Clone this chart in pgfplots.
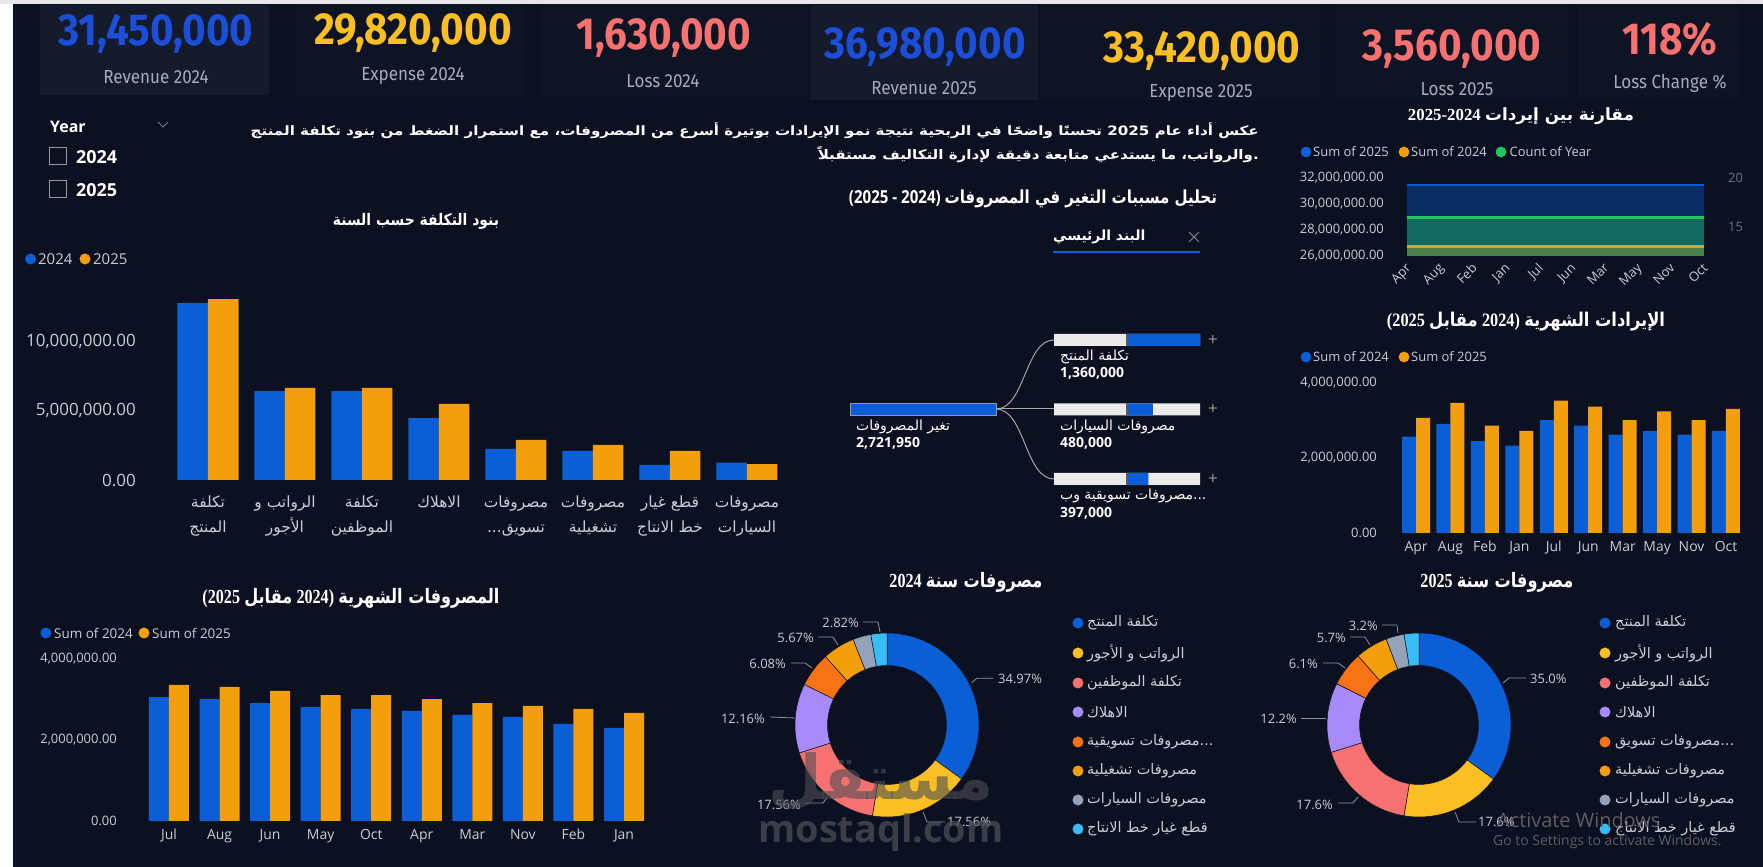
\documentclass[border=0pt]{standalone}
\usepackage{fontspec}
\usepackage{graphicx}
\usepackage{pgfplots}
\pgfplotsset{compat=1.18}
\setmainfont{Open Sans}
\newfontfamily\arfont[Script=Arabic]{DejaVu Sans}
\newfontfamily\kpifont[FakeStretch=0.9]{Fira Sans}
\newfontfamily\sernum{Liberation Serif}
\TeXXeTstate=1
\newcommand\fs[1]{\fontsize{#1}{#1}\selectfont}
\newcommand\AR[1]{{\arfont\beginR #1\endR}}
\definecolor{bg}{HTML}{0B1120}
\definecolor{cardA}{HTML}{141B2D}
\definecolor{cardB}{HTML}{0E1424}
\definecolor{pblue}{HTML}{0B5FD6}
\definecolor{porange}{HTML}{F59E0B}
\definecolor{kblue}{HTML}{1D4ED8}
\definecolor{kyellow}{HTML}{FBBF24}
\definecolor{kred}{HTML}{F87171}
\definecolor{lbl}{HTML}{A3ACB9}
\definecolor{ticktxt}{HTML}{C9CED6}
\definecolor{dimtxt}{HTML}{6B7280}
\definecolor{dyellow}{HTML}{FBBF24}
\definecolor{dsalmon}{HTML}{F87171}
\definecolor{dpurple}{HTML}{A78BFA}
\definecolor{dored}{HTML}{F97316}
\definecolor{dgray}{HTML}{94A3B8}
\definecolor{dlblue}{HTML}{38BDF8}
\definecolor{pgreen}{HTML}{22C55E}
\definecolor{areablue}{HTML}{0A2D64}
\definecolor{areateal}{HTML}{136A62}
\definecolor{areaolive}{HTML}{4A8048}
\definecolor{treegray}{HTML}{EBEBEB}
\definecolor{leader}{HTML}{8B93A0}
\definecolor{topgray}{HTML}{E5E7EB}
\pgfplotsset{pbi/.style={scale only axis, anchor=south west, axis line style={draw=none},
  tick style={draw=none}, major tick length=0pt, clip=false, scaled ticks=false,
  ticklabel style={text=ticktxt, inner sep=0pt}}}
\begin{document}
\begin{tikzpicture}
\useasboundingbox (0,0) rectangle (1763bp,867bp);
\fill[bg] (0,0) rectangle (1763bp,867bp);
\begin{scope}[shift={(0,867bp)}, x=1bp, y=-1bp]
 \fill[white] (0,0) rectangle (13,867);
 \fill[topgray] (0,0) rectangle (1763,4);
 % cards
 \fill[cardA] (40,5) rectangle (269,95);
 \fill[cardB] (297,5) rectangle (525,95);
 \fill[cardB] (541,5) rectangle (811,95);
 \fill[cardA] (811,5) rectangle (1038,100);
 \fill[cardB] (1040,5) rectangle (1319,100);
 \fill[cardB] (1336,5) rectangle (1567,100);
 \fill[cardB] (1578,5) rectangle (1739,100);
 \tikzset{kpi/.style={font=\kpifont\bfseries\fs{45}, inner sep=0pt},
          kpil/.style={font=\kpifont\fs{19}, text=lbl, inner sep=0pt}}
 \node[kpi, text=kblue] at (156,34) {31,450,000};
 \node[kpil] at (156,77) {Revenue 2024};
 \node[kpi, text=kyellow] at (413,33) {29,820,000};
 \node[kpil] at (413,76) {Expense 2024};
 \node[kpi, text=kred] at (664,38) {1,630,000};
 \node[kpil] at (663,81) {Loss 2024};
 \node[kpi, text=kblue] at (925,47) {36,980,000};
 \node[kpil] at (924,88) {Revenue 2025};
 \node[kpi, text=kyellow] at (1202,51) {33,420,000};
 \node[kpil] at (1201,93) {Expense 2025};
 \node[kpi, text=kred] at (1452,49) {3,560,000};
 \node[kpil] at (1457,89) {Loss 2025};
 \node[kpi, text=kred] at (1670,39) {118\%};
 \node[kpil] at (1670,83) {Loss Change \%};
 % slicer
 \node[anchor=west, font=\bfseries\fs{16}, text=white, inner sep=0pt] at (50,127) {Year};
 \draw[gray, line width=0.8] (158,122) -- (163,127) -- (168,122);
 \draw[gray!80, line width=1] (49.5,147.5) rectangle (66.5,164.5);
 \node[anchor=west, font=\bfseries\fs{18}, text=white, inner sep=0pt] at (76,157) {2024};
 \draw[gray!80, line width=1] (49.5,180.5) rectangle (66.5,197.5);
 \node[anchor=west, font=\bfseries\fs{18}, text=white, inner sep=0pt] at (76,190) {2025};
 % paragraph
 \node[anchor=east, inner sep=0pt, text=white] at (1259,131) {\resizebox*{1008bp}{16bp}{\arfont\bfseries\beginR عكس أداء عام \beginL 2025\endL{} تحسنًا واضحًا في الربحية نتيجة نمو الإيرادات بوتيرة أسرع من المصروفات، مع استمرار الضغط من بنود تكلفة المنتج\endR}};
 \node[anchor=east, inner sep=0pt, text=white] at (1259,155) {\resizebox*{441bp}{16bp}{\arfont\bfseries\beginR والرواتب، ما يستدعي متابعة دقيقة لإدارة التكاليف مستقبلاً\endR.}};
 % titles
 \node[inner sep=0pt, text=white] at (416,221) {\resizebox*{166bp}{16bp}{\arfont\bfseries\beginR بنود التكلفة حسب السنة\endR}};
 \node[inner sep=0pt, text=white] at (1033,199) {\resizebox*{368bp}{18bp}{{\bfseries (2025 - 2024)} \arfont\bfseries\beginR تحليل مسببات التغير في المصروفات\endR}};
 \node[inner sep=0pt, text=white] at (1521,116) {\resizebox*{226bp}{17bp}{{\sernum\bfseries 2025-2024} \arfont\bfseries\beginR مقارنة بين إيردات\endR}};
 \node[inner sep=0pt, text=white] at (1526,322) {\resizebox*{278bp}{19bp}{{\sernum\bfseries (2025} \AR{\bfseries مقابل} {\sernum\bfseries 2024)} \AR{\bfseries الإيرادات الشهرية}}};
 \node[inner sep=0pt, text=white] at (351,598) {\resizebox*{297bp}{20bp}{{\sernum\bfseries (2025} \AR{\bfseries مقابل} {\sernum\bfseries 2024)} \AR{\bfseries المصروفات الشهرية}}};
 \node[inner sep=0pt, text=white] at (966,582) {\resizebox*{153bp}{20bp}{{\sernum\bfseries 2024} \AR{\bfseries مصروفات سنة}}};
 \node[inner sep=0pt, text=white] at (1497,582) {\resizebox*{153bp}{20bp}{{\sernum\bfseries 2025} \AR{\bfseries مصروفات سنة}}};
 % legends
 \tikzset{lg/.style={anchor=west, inner sep=0pt, text=ticktxt}}
 \fill[pblue] (30.6,259) circle (5.5); \node[lg, font=\fs{15}] at (38,259) {2024};
 \fill[porange] (85,259) circle (5.5); \node[lg, font=\fs{15}] at (93,259) {2025};
 \fill[pblue] (45.8,633) circle (5.5); \node[lg, font=\fs{13.5}] at (54,633) {Sum of 2024};
 \fill[porange] (144,633) circle (5.5); \node[lg, font=\fs{13.5}] at (152,633) {Sum of 2025};
 \fill[pblue] (1306,357) circle (5.4); \node[lg, font=\fs{13}] at (1313,357) {Sum of 2024};
 \fill[porange] (1404,357) circle (5.4); \node[lg, font=\fs{13}] at (1411,357) {Sum of 2025};
 \fill[pblue] (1306,152) circle (5.4); \node[lg, font=\fs{13}] at (1313,152) {Sum of 2025};
 \fill[porange] (1404,152) circle (5.4); \node[lg, font=\fs{13}] at (1411,152) {Sum of 2024};
 \fill[pgreen] (1501,152) circle (5.4); \node[lg, font=\fs{13}] at (1509.5,152) {Count of Year};
 % tree header
 \node[anchor=west, inner sep=0pt, text=white, font=\arfont\bfseries\fs{14}] at (1053,237) {\beginR البند الرئيسي\endR};
 \draw[pblue, line width=2.5] (1053,252) -- (1200,252);
 \draw[gray!90, line width=0.9] (1189,232) -- (1199,242) (1189,242) -- (1199,232);
 % tree connectors
 \draw[gray!70, line width=1] (996,409) .. controls (1025,409) and (1025,340) .. (1054,340);
 \draw[gray!70, line width=1] (996,409) -- (1054,409);
 \draw[gray!70, line width=1] (996,409) .. controls (1025,409) and (1025,479) .. (1054,479);
 \tikzset{tl/.style={anchor=west, inner sep=0pt, text=white, font=\arfont\fs{14}},
          tn/.style={anchor=west, inner sep=0pt, text=white, font=\bfseries\fs{14}}}
 \node[tl] at (856,427) {\beginR تغير المصروفات\endR};
 \node[tn] at (856,443) {2,721,950};
 \node[tl] at (1060,357) {\beginR تكلفة المنتج\endR};
 \node[tn] at (1060,373) {1,360,000};
 \node[tl] at (1060,427) {\beginR مصروفات السيارات\endR};
 \node[tn] at (1060,443) {480,000};
 \node[tl] at (1060,496) {\beginR مصروفات تسويقية وب\endR.{}.{}.};
 \node[tn] at (1060,513) {397,000};
 \node[text=gray!80, font=\fs{17}, inner sep=0pt] at (1213,340) {+};
 \node[text=gray!80, font=\fs{17}, inner sep=0pt] at (1213,409) {+};
 \node[text=gray!80, font=\fs{17}, inner sep=0pt] at (1213,479) {+};
\end{scope}

% ===== cost items chart =====
\begin{axis}[pbi, at={(169.5bp,{867bp-480bp})}, width=616bp, height=194.6bp,
  xmin=-0.5, xmax=7.5, ymin=0, ymax=14000000, ybar=0pt, bar width=30.5bp,
  xtick={0,1,2,3,4,5,6,7},
  xticklabels={{\beginR تكلفة\endR\\\beginR المنتج\endR},{\beginR الرواتب و\endR\\\beginR الأجور\endR},{\beginR تكلفة\endR\\\beginR الموظفين\endR},{\beginR الاهلاك\endR},{\beginR مصروفات\endR\\.{}.{}.\beginR تسويق\endR},{\beginR مصروفات\endR\\\beginR تشغيلية\endR},{\beginR قطع غيار\endR\\\beginR خط الانتاج\endR},{\beginR مصروفات\endR\\\beginR السيارات\endR}},
  xticklabel style={font=\arfont\fontsize{15.5}{25}\selectfont, align=center, yshift=-16bp},
  ytick={0,5000000,10000000}, yticklabels={{0.00},{5,000,000.00},{10,000,000.00}},
  yticklabel style={font=\fs{17}, anchor=east, xshift=-33.5bp}]
\addplot[fill=pblue, draw=none] coordinates {(0,12730000) (1,6400000) (2,6400000) (3,4460000) (4,2230000) (5,2090000) (6,1080000) (7,1250000)};
\addplot[fill=porange, draw=none] coordinates {(0,13020000) (1,6620000) (2,6620000) (3,5470000) (4,2880000) (5,2520000) (6,2090000) (7,1150000)};
\end{axis}

% ===== monthly expenses =====
\begin{axis}[pbi, at={(143.7bp,{867bp-821bp})}, width=505.6bp, height=170.1bp,
  xmin=-0.5, xmax=9.5, ymin=0, ymax=4200000, ybar=0pt, bar width=20bp,
  xtick={0,1,2,3,4,5,6,7,8,9}, xticklabels={Jul,Aug,Jun,May,Oct,Apr,Mar,Nov,Feb,Jan},
  xticklabel style={font=\fs{14}, yshift=-8bp},
  ytick={0,2000000,4000000}, yticklabels={{0.00},{2,000,000.00},{4,000,000.00}},
  yticklabel style={font=\fs{13}, anchor=east, xshift=-26.7bp}]
\addplot[fill=pblue, draw=none] coordinates {(0,3060000) (1,3010000) (2,2910000) (3,2810000) (4,2770000) (5,2720000) (6,2620000) (7,2570000) (8,2400000) (9,2300000)};
\addplot[fill=porange, draw=none] coordinates {(0,3360000) (1,3310000) (2,3210000) (3,3110000) (4,3110000) (5,3010000) (6,2910000) (7,2840000) (8,2770000) (9,2670000)};
\end{axis}

% ===== monthly revenue =====
\begin{axis}[pbi, at={(1398.8bp,{867bp-533bp})}, width=344.4bp, height=153.75bp,
  xmin=-0.5, xmax=9.5, ymin=0, ymax=4100000, ybar=0pt, bar width=14bp,
  xtick={0,1,2,3,4,5,6,7,8,9}, xticklabels={Apr,Aug,Feb,Jan,Jul,Jun,Mar,May,Nov,Oct},
  xticklabel style={font=\fs{14}, yshift=-8bp},
  ytick={0,2000000,4000000}, yticklabels={{0.00},{2,000,000.00},{4,000,000.00}},
  yticklabel style={font=\fs{13}, anchor=east, xshift=-21.8bp}]
\addplot[fill=pblue, draw=none] coordinates {(0,2570000) (1,2910000) (2,2450000) (3,2330000) (4,3010000) (5,2860000) (6,2620000) (7,2720000) (8,2620000) (9,2720000)};
\addplot[fill=porange, draw=none] coordinates {(0,3070000) (1,3470000) (2,2860000) (3,2720000) (4,3530000) (5,3370000) (6,3010000) (7,3240000) (8,3010000) (9,3310000)};
\end{axis}

% ===== revenue comparison (area) =====
\begin{axis}[pbi, at={(1407bp,{867bp-255.7bp})}, width=297bp, height=77.7bp,
  xmin=0, xmax=9, ymin=26000000, ymax=32000000,
  xtick={0,1,2,3,4,5,6,7,8,9}, xticklabels={Apr,Aug,Feb,Jan,Jul,Jun,Mar,May,Nov,Oct},
  xticklabel style={font=\fs{13}, rotate=45, anchor=north east, xshift=-6bp, yshift=-3bp},
  ytick={26000000,28000000,30000000,32000000},
  yticklabels={{26,000,000.00},{28,000,000.00},{30,000,000.00},{32,000,000.00}},
  yticklabel style={font=\fs{13}, anchor=east, xshift=-23bp}]
\addplot[fill=areablue, draw=none] coordinates {(0,26000000) (0,31450000) (9,31450000) (9,26000000)} -- cycle;
\addplot[fill=areateal, draw=none] coordinates {(0,26000000) (0,28940000) (9,28940000) (9,26000000)} -- cycle;
\addplot[fill=areaolive, draw=none] coordinates {(0,26000000) (0,26700000) (9,26700000) (9,26000000)} -- cycle;
\addplot[pblue, line width=2.5bp] coordinates {(0,31450000) (1,31450000) (2,31450000) (3,31450000) (4,31450000) (5,31450000) (6,31450000) (7,31450000) (8,31450000) (9,31450000)};
\addplot[pgreen, line width=2.5bp] coordinates {(0,28940000) (1,28940000) (2,28940000) (3,28940000) (4,28940000) (5,28940000) (6,28940000) (7,28940000) (8,28940000) (9,28940000)};
\addplot[porange, line width=2.5bp] coordinates {(0,26700000) (1,26700000) (2,26700000) (3,26700000) (4,26700000) (5,26700000) (6,26700000) (7,26700000) (8,26700000) (9,26700000)};
\end{axis}
\begin{axis}[pbi, at={(1407bp,{867bp-255.7bp})}, width=297bp, height=77.7bp,
  xmin=0, xmax=9, ymin=12.143, ymax=20, xtick=\empty,
  ytick={15,20}, yticklabels={{15},{20}}, yticklabel pos=right,
  yticklabel style={font=\fs{13}, anchor=west, xshift=24bp, text=dimtxt}]
\addplot[draw=none] coordinates {(0,16)};
\end{axis}

% ===== decomposition tree =====
\begin{axis}[pbi, hide axis, at={(850bp,{867bp-415bp})}, width=146bp, height=12bp,
  xmin=0, xmax=2721950, ymin=-0.5, ymax=0.5, bar width=12bp]
\addplot[xbar, bar shift=0pt, fill=pblue, draw=gray!80, line width=0.6bp] coordinates {(2721950,0)};
\end{axis}
\begin{axis}[pbi, hide axis, at={(1054bp,{867bp-513.75bp})}, width=146bp, height=208.5bp,
  xmin=-1360000, xmax=1360000, ymin=-2.5, ymax=0.5, bar width=12bp]
\addplot[xbar, bar shift=0pt, fill=treegray, draw=none] coordinates {(1360000,0) (1360000,-1) (1360000,-2)};
\addplot[xbar, bar shift=0pt, fill=treegray, draw=none] coordinates {(-1360000,0) (-1360000,-1) (-1360000,-2)};
\addplot[xbar, bar shift=0pt, fill=pblue, draw=none] coordinates {(1360000,0) (480000,-1) (397000,-2)};
\addplot[gray!70!black, line width=1.6bp] coordinates {(0,0.09) (0,-0.09)};
\addplot[gray!70!black, line width=1.6bp] coordinates {(0,-0.91) (0,-1.09)};
\addplot[gray!70!black, line width=1.6bp] coordinates {(0,-1.91) (0,-2.09)};
\end{axis}

% ===== donuts =====
\begin{scope}[shift={(0,867bp)}, x=1bp, y=-1bp]
 \def\cx{887}\def\cy{725}
 \foreach \p/\c [remember=\e as \s (initially -90), evaluate=\p as \e using \s+\p*3.6] in
   {34.97/pblue,17.56/dyellow,17.56/dsalmon,12.16/dpurple,6.08/dored,5.67/porange,3.18/dgray,2.82/dlblue}
   {\filldraw[fill=\c, draw=bg, line width=0.5] (\cx,\cy) ++(\s:92) arc[start angle=\s, end angle=\e, radius=92] -- ++(\e:-32.5) arc[start angle=\e, end angle=\s, radius=59.5] -- cycle;}
 \def\cx{1419}
 \foreach \p/\c [remember=\e as \s (initially -90), evaluate=\p as \e using \s+\p*3.6] in
   {35.0/pblue,17.6/dyellow,17.6/dsalmon,12.2/dpurple,6.1/dored,5.7/porange,3.2/dgray,2.6/dlblue}
   {\filldraw[fill=\c, draw=bg, line width=0.5] (\cx,\cy) ++(\s:92) arc[start angle=\s, end angle=\e, radius=92] -- ++(\e:-32.5) arc[start angle=\e, end angle=\s, radius=59.5] -- cycle;}
 \tikzset{pl/.style={inner sep=0pt, text=ticktxt, font=\fs{13}}, ld/.style={leader, line width=0.8}}
 % 2024 labels
 \draw[ld] (971.7,682.7) -- (976.7,678.3) -- (993.3,678.3); \node[pl, anchor=west] at (998,679) {34.97\%};
 \draw[ld] (923,812) -- (927,822) -- (945,822); \node[pl, anchor=west] at (947,822) {17.56\%};
 \draw[ld] (827,798) -- (823,803) -- (805,803); \node[pl, anchor=east] at (801,805) {17.56\%};
 \draw[ld] (795,718) -- (770,717); \node[pl, anchor=east] at (765,719) {12.16\%};
 \draw[ld] (812,668) -- (805,663) -- (791,663); \node[pl, anchor=east] at (786,664) {6.08\%};
 \draw[ld] (838,645) -- (833,637) -- (818,637); \node[pl, anchor=east] at (814,638) {5.67\%};
 \draw[ld] (880,632) -- (878,622) -- (863,622); \node[pl, anchor=east] at (859,623) {2.82\%};
 % 2025 labels
 \draw[ld] (1503,683) -- (1509,678) -- (1526,678); \node[pl, anchor=west] at (1530,679) {35.0\%};
 \draw[ld] (1455,812) -- (1459,822) -- (1476,822); \node[pl, anchor=west] at (1478,822) {17.6\%};
 \draw[ld] (1358,797) -- (1353,803) -- (1338,803); \node[pl, anchor=east] at (1333,805) {17.6\%};
 \draw[ld] (1326,718) -- (1301,718); \node[pl, anchor=east] at (1297,719) {12.2\%};
 \draw[ld] (1345,668) -- (1338,663) -- (1323,663); \node[pl, anchor=east] at (1318,664) {6.1\%};
 \draw[ld] (1370,645) -- (1365,637) -- (1350,637); \node[pl, anchor=east] at (1346,638) {5.7\%};
 \draw[ld] (1398,633) -- (1397,625) -- (1382,625); \node[pl, anchor=east] at (1378,626) {3.2\%};
 % donut legends
 \tikzset{dl/.style={anchor=west, inner sep=0pt, text=ticktxt, font=\arfont\fs{14.5}}}
 \foreach \xd/\xt in {1078/1087,1605/1615} {
   \fill[pblue] (\xd,623) circle (5.5); \node[dl] at (\xt,623) {\beginR تكلفة المنتج\endR};
   \fill[dyellow] (\xd,653) circle (5.5); \node[dl] at (\xt,653) {\beginR الرواتب و الأجور\endR};
   \fill[dsalmon] (\xd,683) circle (5.5); \node[dl] at (\xt,683) {\beginR تكلفة الموظفين\endR};
   \fill[dpurple] (\xd,712) circle (5.5); \node[dl] at (\xt,712) {\beginR الاهلاك\endR};
   \fill[dored] (\xd,742) circle (5.5);
   \fill[porange] (\xd,771) circle (5.5); \node[dl] at (\xt,771) {\beginR مصروفات تشغيلية\endR};
   \fill[dgray] (\xd,800) circle (5.5); \node[dl] at (\xt,800) {\beginR مصروفات السيارات\endR};
   \fill[dlblue] (\xd,829) circle (5.5); \node[dl] at (\xt,829) {\beginR قطع غيار خط الانتاج\endR};
 }
 \node[dl] at (1087,742) {\beginR مصروفات تسويقية\endR.{}.{}.};
 \node[dl] at (1615,742) {\beginR مصروفات تسويق\endR.{}.{}.};
 % watermarks
 \node[text=gray!55!bg, text opacity=0.6, font=\arfont\bfseries\fs{62}, inner sep=0pt] at (881,782) {\beginR مستقل\endR};
 \node[text=gray!55!bg, text opacity=0.75, font=\bfseries\fs{38}, inner sep=0pt] at (881,833) {mostaql.com};
 \node[anchor=west, text=gray!70!bg, font=\fs{20}, inner sep=0pt] at (1497,820) {Activate Windows};
 \node[anchor=west, text=gray!70!bg, font=\fs{14}, inner sep=0pt] at (1493,842) {Go to Settings to activate Windows.};
\end{scope}
\end{tikzpicture}
\end{document}
